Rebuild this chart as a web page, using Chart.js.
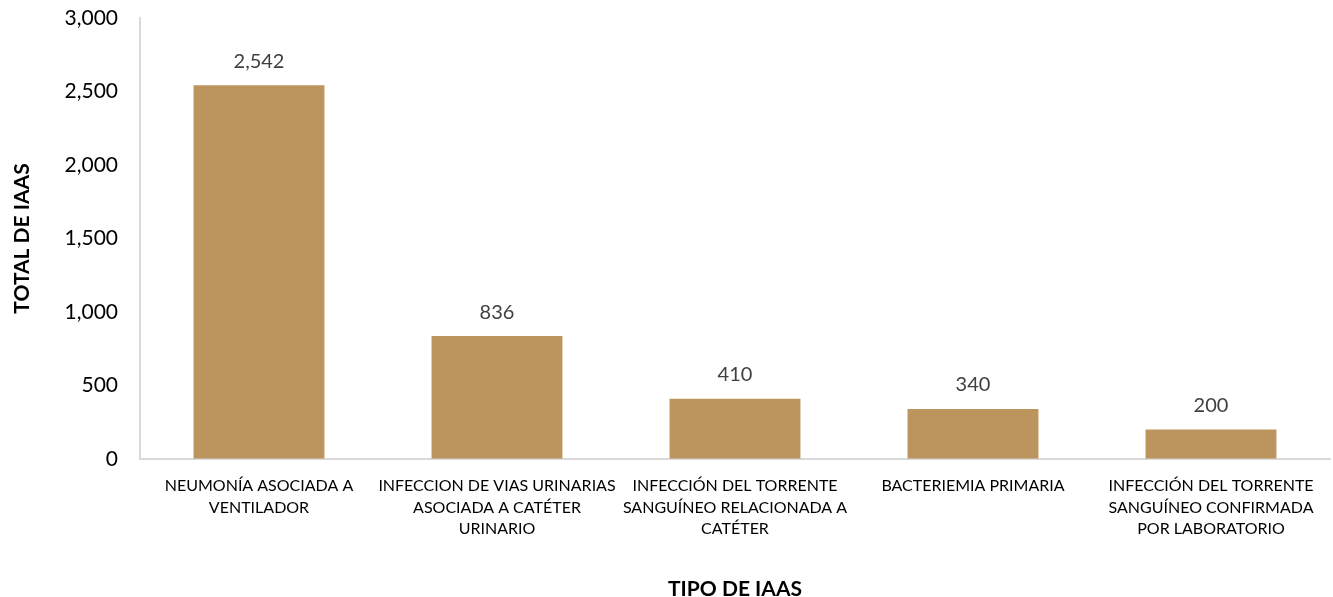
<!DOCTYPE html>
<html>
<head>
<meta charset="utf-8">
<script src="https://cdn.jsdelivr.net/npm/chart.js@4.4.1/dist/chart.umd.min.js"></script>
<style>
html,body{margin:0;padding:0;background:#fff;}
#wrap{width:1333px;height:597px;position:relative;}
</style>
</head>
<body>
<div id="wrap"><canvas id="c" width="1333" height="597"></canvas></div>
<script>
const categories = [
  ["NEUMONÍA ASOCIADA A", "VENTILADOR"],
  ["INFECCION DE VIAS URINARIAS", "ASOCIADA A CATÉTER", "URINARIO"],
  ["INFECCIÓN DEL TORRENTE", "SANGUÍNEO RELACIONADA A", "CATÉTER"],
  ["BACTERIEMIA PRIMARIA"],
  ["INFECCIÓN DEL TORRENTE", "SANGUÍNEO CONFIRMADA", "POR LABORATORIO"]
];
const totals = [2542, 836, 410, 340, 200];
const yTitle = "TOTAL DE IAAS";
const xTitle = "TIPO DE IAAS";

const FONT = "Lato, 'Open Sans', sans-serif";

const valueLabels = {
  id: 'valueLabels',
  afterDatasetsDraw(chart) {
    const ctx = chart.ctx;
    const meta = chart.getDatasetMeta(0);
    ctx.save();
    ctx.font = "20px " + FONT;
    ctx.fillStyle = "#404040";
    ctx.textAlign = "center";
    ctx.textBaseline = "middle";
    meta.data.forEach((el, i) => {
      ctx.fillText(totals[i].toLocaleString('en-US'), el.x, el.y - 24);
    });
    ctx.restore();
  }
};

new Chart(document.getElementById('c'), {
  type: 'bar',
  data: {
    labels: categories,
    datasets: [{
      data: totals,
      backgroundColor: '#BC955E',
      barPercentage: 0.55,
      categoryPercentage: 1.0
    }]
  },
  options: {
    responsive: false,
    animation: false,
    layout: { padding: { top: 18, right: 3, left: 0, bottom: 0 } },
    plugins: { legend: { display: false }, tooltip: { enabled: false } },
    scales: {
      x: {
        grid: { display: true, drawOnChartArea: false, drawTicks: false },
        border: { color: '#D9D9D9', width: 2 },
        ticks: {
          color: '#000',
          font: { family: FONT, size: 16, lineHeight: 1.35 },
          maxRotation: 0, minRotation: 0, autoSkip: false,
          padding: 16
        },
        title: {
          display: true, text: xTitle, color: '#000',
          font: { family: FONT, size: 21, weight: 'bold' },
          padding: { top: 0, bottom: -5 }
        },
        afterFit(s) { s.height = 138; s.paddingLeft = 0; s.paddingRight = 0; }
      },
      y: {
        min: 0, max: 3000,
        grid: { display: true, drawOnChartArea: false, drawTicks: false },
        border: { color: '#D9D9D9', width: 2 },
        ticks: {
          stepSize: 500, color: '#000',
          font: { family: FONT, size: 21 },
          padding: 22,
          callback: v => v.toLocaleString('en-US')
        },
        title: {
          display: true, text: yTitle, color: '#000',
          font: { family: FONT, size: 21, weight: 'bold' },
          padding: { top: 10, bottom: 0 }
        },
        afterFit(s) { s.width = 140; s.paddingTop = 0; s.paddingBottom = 0; }
      }
    }
  },
  plugins: [valueLabels]
});
</script>
</body>
</html>
